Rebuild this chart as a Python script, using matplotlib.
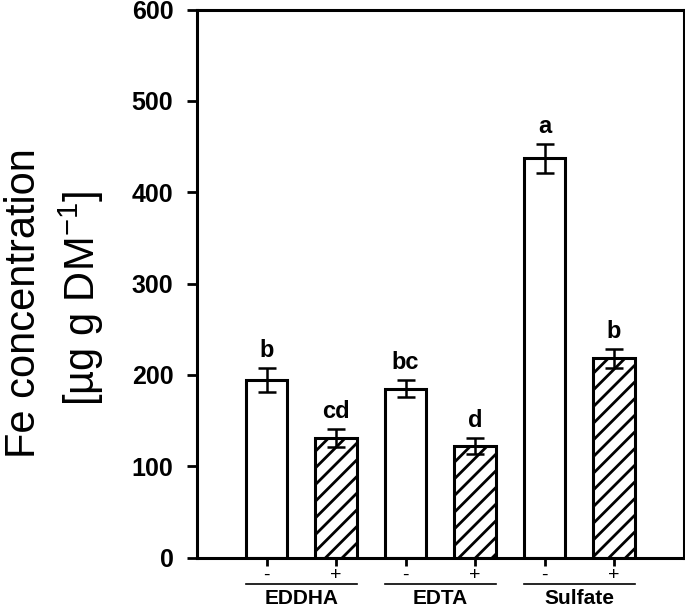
import matplotlib
matplotlib.use('Agg')
import matplotlib.pyplot as plt
import matplotlib.transforms as mtransforms
import numpy as np

## data
groups = ['EDDHA', 'EDTA', 'Sulfate']
treatments = ['-', '+']
means = [194, 131, 185, 122, 437, 218]
errors = [13, 10, 9.5, 9, 16, 10]
letters = ['b', 'cd', 'bc', 'd', 'a', 'b']
yticks = [0, 100, 200, 300, 400, 500, 600]

plt.rcParams['font.family'] = ['Liberation Sans', 'DejaVu Sans']
plt.rcParams['mathtext.default'] = 'regular'
plt.rcParams['hatch.linewidth'] = 2.0

fig = plt.figure(figsize=(6.85, 6.08), dpi=100)
ax = fig.add_axes([197/685, 1-557.5/608, (683.5-197)/685, (557.5-9.6)/608])

x = np.arange(1, len(means) + 1)
width = 0.6
hatches = ['', '//'] * len(groups)
for xi, m, e, h in zip(x, means, errors, hatches):
    ax.bar(xi, m, width=width, color='white', edgecolor='black', linewidth=2.2,
           hatch=h, zorder=2)
    ax.errorbar(xi, m, yerr=e, color='black', elinewidth=1.8, capsize=6.5,
                capthick=1.8, zorder=3)

## significance letters
for xi, m, e, lab in zip(x, means, errors, letters):
    ax.annotate(lab, (xi, m + e), xytext=(0, 8), textcoords='offset points',
                ha='center', va='baseline', fontsize=17, fontweight='bold')

ax.set_xlim(0, 7)
ax.set_ylim(0, 600)
ax.set_yticks(yticks)
ax.set_yticklabels([str(t) for t in yticks], fontsize=18, fontweight='bold')
ax.set_xticks(x)
ax.set_xticklabels(treatments * len(groups), fontsize=14)
ax.tick_params(axis='y', direction='out', length=7, width=2, pad=10)
ax.tick_params(axis='x', direction='out', length=6, width=2, pad=1)
for sp in ax.spines.values():
    sp.set_linewidth(2.2)

## group underlines and names
trans = mtransforms.blended_transform_factory(ax.transData, fig.transFigure)
for i, g in enumerate(groups):
    x0 = x[2*i] - width/2
    x1 = x[2*i+1] + width/2
    ax.plot([x0, x1], [1-584/608, 1-584/608], color='black', lw=1.2,
            transform=trans, clip_on=False)
    fig.text((x0 + x1) / 2, 1-598/608, g, transform=trans, ha='center',
             va='center', fontsize=15, fontweight='bold')

## y label in two lines
fig.text(24/685, 1-303/608, 'Fe concentration', rotation=90, ha='center',
         va='center', fontsize=30)
fig.text(81/685, 1-298/608, '[µg g DM$^{-1}$]', rotation=90, ha='center',
         va='center', fontsize=30)

fig.savefig('out.png', dpi=100)
